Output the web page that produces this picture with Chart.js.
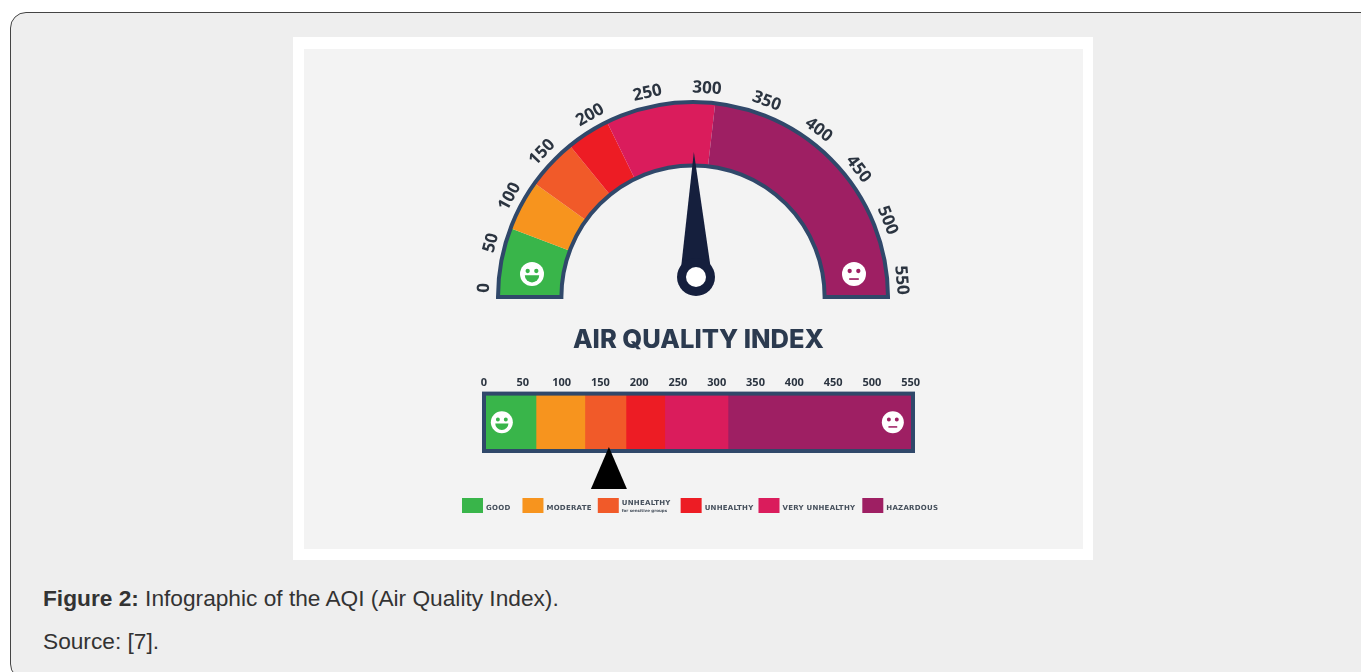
<!DOCTYPE html>
<html>
<head>
<meta charset="utf-8">
<title>AQI</title>
<script src="https://cdn.jsdelivr.net/npm/chart.js@4"></script>
<style>
  html, body { margin: 0; padding: 0; background: #fff; overflow: hidden; }
  #card { position: absolute; left: 10px; top: 12px; width: 1400px; height: 668px; box-sizing: border-box;
          background: #eee; border: 1px solid #444; border-radius: 16px; }
  #frame { position: absolute; left: 293px; top: 37px; width: 800px; height: 523px; background: #fff; }
  #panel { position: absolute; left: 304px; top: 49px; width: 779px; height: 500px; background: #f3f3f3; }
  canvas { position: absolute; filter: blur(0.7px); }
  p { position: absolute; left: 43px; margin: 0; font: 22.7px "Liberation Sans", Arial, sans-serif; color: #333; }
</style>
</head>
<body>
<div id="card"></div>
<div id="frame"></div>
<div id="panel"></div>
<canvas id="gauge" width="500" height="250" style="left:443px;top:70px"></canvas>
<canvas id="bar" width="523" height="220" style="left:440px;top:320px"></canvas>
<p style="top:585px"><b>Figure 2:</b> Infographic of the AQI (Air Quality Index).</p>
<p style="top:628px">Source: [7].</p>
<script>
var categories = ["GOOD", "MODERATE", "UNHEALTHY", "UNHEALTHY", "VERY UNHEALTHY", "HAZARDOUS"];
var colors = ["#39b54a", "#f7941e", "#f15a29", "#ed1c24", "#da1c5c", "#9e1f63"];
// the two drawings do not share the same breaks, so each has its own
var gaugeValues = [63, 46, 46.5, 39.5, 100, 255];
var barValues = [67, 63, 53, 50, 81.5, 239];
var tickLabels = [0, 50, 100, 150, 200, 250, 300, 350, 400, 450, 500, 550];
var needleValue = 272;
var pointerValue = 161;
var gaugeMax = 550;
var barMax = 553;

var outline = "#30486a";
var dark = "#151f3d";
var textColor = "#2b3440";

function drawFace(ctx, x, y, r, happy, bg) {
  ctx.save();
  ctx.fillStyle = "#fff";
  ctx.beginPath();
  ctx.arc(x, y, r, 0, Math.PI * 2);
  ctx.fill();
  ctx.fillStyle = bg;
  ctx.beginPath();
  ctx.arc(x - r * 0.36, y - r * 0.25, r * 0.18, 0, Math.PI * 2);
  ctx.arc(x + r * 0.36, y - r * 0.25, r * 0.18, 0, Math.PI * 2);
  ctx.fill();
  ctx.beginPath();
  if (happy) {
    ctx.moveTo(x - r * 0.6, y + r * 0.1);
    ctx.lineTo(x + r * 0.6, y + r * 0.1);
    ctx.arc(x, y + r * 0.1, r * 0.6, 0, Math.PI);
    ctx.fill();
  } else {
    ctx.rect(x - r * 0.4, y + r * 0.35, r * 0.8, r * 0.14);
    ctx.fill();
  }
  ctx.restore();
}

var gaugeParts = {
  id: "gaugeParts",
  afterDatasetsDraw: function (chart) {
    var ctx = chart.ctx;
    var arc = chart.getDatasetMeta(0).data[0];
    var cx = arc.x, cy = arc.y;
    ctx.save();

    ctx.strokeStyle = outline;
    ctx.lineWidth = 4;
    ctx.beginPath();
    ctx.arc(cx, cy, arc.outerRadius, Math.PI, Math.PI * 2);
    ctx.arc(cx, cy, arc.innerRadius, Math.PI * 2, Math.PI, true);
    ctx.closePath();
    ctx.stroke();

    drawFace(ctx, cx - 161, cy - 23, 12, true, colors[0]);
    drawFace(ctx, cx + 161, cy - 23, 12, false, colors[5]);

    // the labels are not evenly spaced round the arc, degrees from the left end
    var labelAngles = [2.5, 15, 28.7, 43.8, 60.5, 77.4, 93.8, 110.6, 126.9, 142.3, 158.5, 175.4];
    ctx.fillStyle = textColor;
    ctx.font = 'bold 17px "Open Sans"';
    ctx.textAlign = "center";
    ctx.textBaseline = "middle";
    tickLabels.forEach(function (v, i) {
      var a = labelAngles[i] / 180 * Math.PI;
      ctx.save();
      ctx.translate(cx - 209 * Math.cos(a), cy - 209 * Math.sin(a));
      ctx.rotate(a - Math.PI / 2);
      ctx.fillText(String(v), 0, 0);
      ctx.restore();
    });

    // needle
    var px = cx + 3, py = cy - 20;
    var na = needleValue / gaugeMax * Math.PI;
    var dx = -Math.cos(na), dy = -Math.sin(na);
    ctx.fillStyle = dark;
    ctx.beginPath();
    ctx.moveTo(px + dx * 125, py + dy * 125);
    ctx.lineTo(px - dy * 16, py + dx * 16);
    ctx.lineTo(px + dy * 16, py - dx * 16);
    ctx.closePath();
    ctx.fill();
    ctx.beginPath();
    ctx.arc(px, py, 19, 0, Math.PI * 2);
    ctx.fill();
    ctx.fillStyle = "#fff";
    ctx.beginPath();
    ctx.arc(px, py, 10, 0, Math.PI * 2);
    ctx.fill();
    ctx.restore();
  }
};

var barParts = {
  id: "barParts",
  afterDatasetsDraw: function (chart) {
    var ctx = chart.ctx;
    var area = chart.chartArea;
    var x = chart.scales.x;
    var midY = (area.top + area.bottom) / 2;
    ctx.save();

    ctx.strokeStyle = outline;
    ctx.lineWidth = 4;
    ctx.strokeRect(area.left, area.top, area.right - area.left, area.bottom - area.top);

    drawFace(ctx, x.getPixelForValue(23), midY, 11, true, colors[0]);
    drawFace(ctx, x.getPixelForValue(527), midY, 11, false, colors[5]);

    // pointer under the bar
    var px = x.getPixelForValue(pointerValue);
    ctx.fillStyle = "#000";
    ctx.beginPath();
    ctx.moveTo(px, area.bottom - 4);
    ctx.lineTo(px + 18, area.bottom + 38);
    ctx.lineTo(px - 18, area.bottom + 38);
    ctx.closePath();
    ctx.fill();

    // legend row, the built in one cannot do the two line entry
    var gaps = [12, 6, 10, 5, 7, 0];
    var lx = 22, ly = 178;
    ctx.textBaseline = "middle";
    ctx.textAlign = "left";
    categories.forEach(function (name, i) {
      ctx.fillStyle = colors[i];
      ctx.fillRect(lx, ly, 21, 15);
      ctx.fillStyle = "#46505c";
      ctx.font = 'bold 7px "DejaVu Sans"';
      ctx.letterSpacing = "0.25px";
      var two = i == 2;
      ctx.fillText(name, lx + 24, two ? ly + 5 : ly + 10);
      var w = ctx.measureText(name).width;
      if (two) {
        ctx.font = 'bold 4px "DejaVu Sans"';
        ctx.letterSpacing = "0px";
        ctx.fillText("for sensitive groups", lx + 24, ly + 13);
      }
      lx += 24 + w + gaps[i];
    });
    ctx.restore();
  }
};

new Chart(document.getElementById("gauge"), {
  type: "doughnut",
  data: {
    labels: categories,
    datasets: [{ data: gaugeValues, backgroundColor: colors, borderWidth: 0 }]
  },
  options: {
    responsive: false,
    animation: false,
    rotation: -90,
    circumference: 180,
    cutout: "67.5%",
    layout: { padding: { left: 55, right: 55, top: 32, bottom: 23 } },
    plugins: { legend: { display: false }, tooltip: { enabled: false } }
  },
  plugins: [gaugeParts]
});

new Chart(document.getElementById("bar"), {
  type: "bar",
  data: {
    labels: ["AQI"],
    datasets: categories.map(function (name, i) {
      return {
        label: name,
        data: [barValues[i]],
        backgroundColor: colors[i],
        barPercentage: 1,
        categoryPercentage: 1
      };
    })
  },
  options: {
    responsive: false,
    animation: false,
    indexAxis: "y",
    layout: { padding: { left: 44, right: 50, top: 0, bottom: 89 } },
    plugins: {
      legend: { display: false },
      tooltip: { enabled: false },
      title: {
        display: true,
        text: "AIR QUALITY INDEX",
        color: "#2b3a4f",
        font: { family: "Inter", size: 25.5, weight: "800", lineHeight: 1.2 },
        padding: { top: 5, bottom: 11 }
      }
    },
    scales: {
      x: {
        position: "top",
        stacked: true,
        min: 0,
        max: barMax,
        grid: { display: false, drawTicks: false },
        border: { display: false },
        ticks: {
          color: textColor,
          font: { family: "Open Sans", size: 11, weight: "bold" },
          padding: 4,
          maxRotation: 0,
          autoSkip: false
        },
        afterBuildTicks: function (scale) {
          scale.ticks = tickLabels.map(function (v) { return { value: v }; });
        },
        afterFit: function (scale) { scale.height = 27; }
      },
      y: { stacked: true, display: false }
    }
  },
  plugins: [barParts]
});
</script>
</body>
</html>
